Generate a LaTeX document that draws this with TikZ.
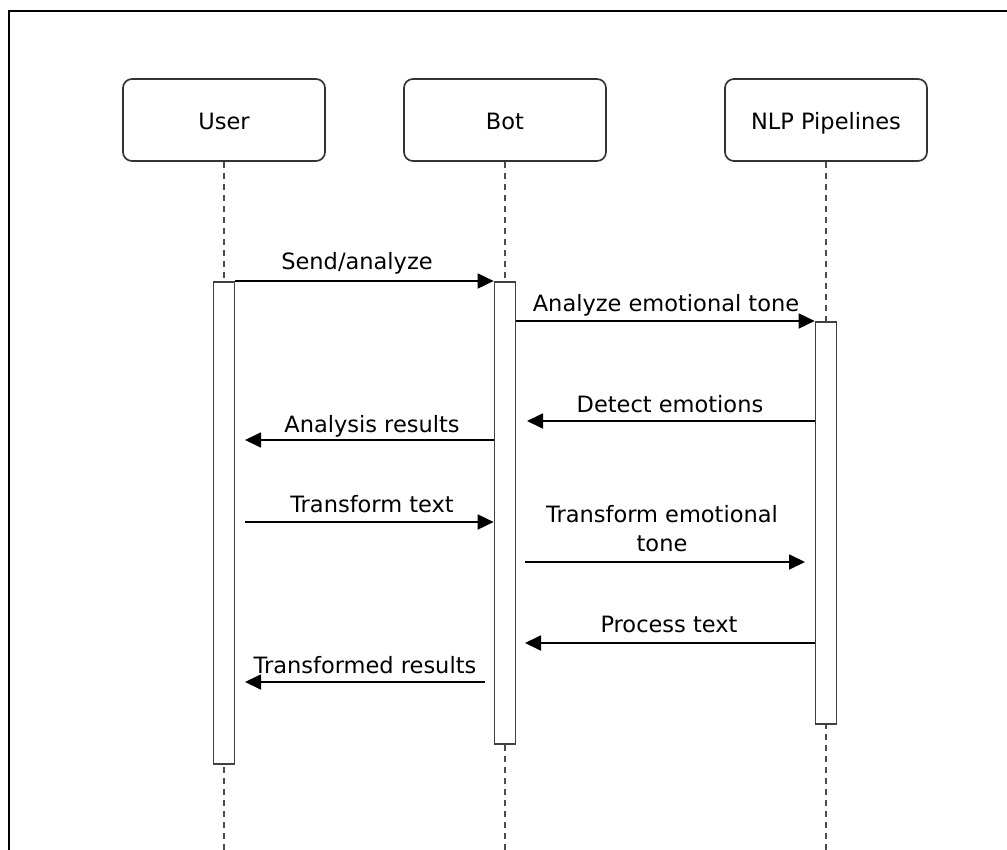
\documentclass[tikz,border=0pt]{standalone}
\usepackage{fontspec}
\setmainfont{DejaVu Sans}
\usetikzlibrary{arrows.meta,calc}
\begin{document}
\begin{tikzpicture}[x=1pt,y=-1pt,
  txt/.style={font=\fontsize{22.5}{28}\selectfont},
  actor/.style={txt, draw=black!80, line width=1.7pt, rounded corners=9pt,
    minimum width=202pt, minimum height=82pt, fill=white, inner sep=0,
    text height=20pt, text depth=0pt},
  actbar/.style={draw=black!75, line width=1.7pt, fill=white,
    minimum width=21pt, inner sep=0, anchor=north},
  life/.style={draw=black!70, line width=1.7pt, dash pattern=on 6pt off 5pt},
  msg/.style={draw=black, line width=1.8pt, -{Triangle[length=16pt,width=15pt]}},
  lbl/.style={txt, anchor=base, inner sep=0}]
\useasboundingbox (0,0) rectangle (1007,850);

% outer frame (left and top edges)
\draw[line width=2.4pt] (9,850) -- (9,11) -- (1007,11);

% participants
\node[actor] (user) at (224,120) {User};
\node[actor] (bot)  at (505,120) {Bot};
\node[actor] (nlp)  at (826,120) {NLP Pipelines};

% lifelines
\coordinate (bottom) at (0,850);
\draw[life] (user.south) -- (user.south |- bottom);
\draw[life] (bot.south)  -- (bot.south |- bottom);
\draw[life] (nlp.south)  -- (nlp.south |- bottom);

% activation bars
\node[actbar, minimum height=482pt] (ub) at (224,281) {};
\node[actbar, minimum height=462pt] (bb) at (505,281) {};
\node[actbar, minimum height=402pt] (nb) at (826,321) {};

% message levels and free ends
\coordinate (y3) at (0,421);
\coordinate (y4) at (0,440);
\coordinate (y5) at (0,522);
\coordinate (y6) at (0,562);
\coordinate (y7) at (0,643);
\coordinate (y8) at (0,682);
\coordinate (e3) at (527,421);
\coordinate (e4) at (245,440);
\coordinate (s5) at (245,522);
\coordinate (s6) at (525,562);
\coordinate (e6) at (805,562);
\coordinate (e7) at (525,643);
\coordinate (s8) at (485,682);
\coordinate (e8) at (245,682);

% messages
\draw[msg] (ub.north east) -- (bb.north west);
\draw[msg] (bb.east |- nb.north) -- (nb.north west);
\draw[msg] (nb.west |- y3) -- (e3);
\draw[msg] (bb.west |- y4) -- (e4);
\draw[msg] (s5) -- (bb.west |- y5);
\draw[msg] (s6) -- (e6);
\draw[msg] (nb.west |- y7) -- (e7);
\draw[msg] (s8) -- (e8);

% message labels
\node[lbl] (l1) at (357,270) {Send/analyze};
\node[lbl] (l2) at (666,312) {Analyze emotional tone};
\node[lbl] (l3) at (670,412) {Detect emotions};
\node[lbl] (l4) at (372,432) {Analysis results};
\node[lbl] (l5) at (372,512) {Transform text};
\node[lbl] (l6a) at (662,522) {Transform emotional};
\node[lbl] (l6b) at (662,551) {tone};
\node[lbl] (l7) at (669,632) {Process text};
\node[lbl] (l8) at (365,673) {Transformed results};
\end{tikzpicture}
\end{document}
